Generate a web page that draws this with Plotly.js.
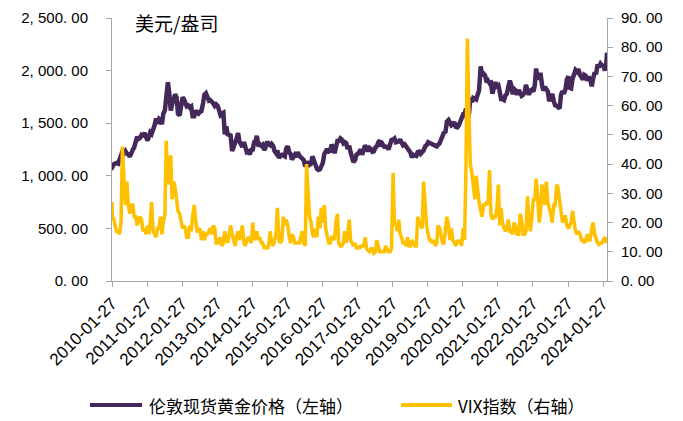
<!DOCTYPE html>
<html>
<head>
<meta charset="utf-8">
<script src="https://cdn.plot.ly/plotly-3.0.1.min.js"></script>
<style>html,body{margin:0;padding:0;background:#fff;}#chart{width:683px;height:421px;}</style>
</head>
<body>
<div id="chart"></div>
<script>
// ---- Data (semi-monthly readings: 1st and 15th of each month) ----
// 2010 starts at 2010-01-27, then Feb-1 onward; 2024 ends with Mar-1 then 2024-03-08
var goldY2010 = [1090,1085,1110,1118,1122,1115,1155,1180,1230,1215,1235,1210,1205,1182,1220,1248,1270,1315,1370,1352,1360,1390,1385];
var goldY2011 = [1405,1365,1335,1372,1412,1398,1430,1480,1545,1495,1540,1528,1490,1590,1625,1785,1890,1790,1620,1680,1725,1775,1745,1590];
var goldY2012 = [1575,1650,1745,1728,1700,1660,1668,1650,1660,1565,1565,1622,1598,1590,1610,1615,1690,1770,1785,1750,1715,1720,1710,1690];
var goldY2013 = [1665,1680,1665,1610,1580,1592,1600,1395,1470,1395,1395,1385,1235,1290,1315,1350,1405,1325,1305,1275,1320,1285,1225,1230];
var goldY2014 = [1205,1245,1250,1320,1330,1380,1280,1300,1285,1295,1245,1275,1325,1300,1290,1305,1285,1235,1215,1240,1170,1190,1200,1195];
var goldY2015 = [1185,1260,1280,1225,1210,1155,1185,1200,1180,1225,1190,1180,1170,1150,1090,1115,1135,1105,1115,1185,1140,1085,1065,1055];
var goldY2016 = [1062,1090,1125,1205,1235,1255,1230,1235,1295,1275,1215,1290,1330,1330,1355,1345,1310,1320,1310,1255,1285,1225,1170,1130];
var goldY2017 = [1150,1200,1210,1232,1250,1200,1245,1288,1265,1232,1265,1255,1228,1232,1270,1280,1320,1335,1280,1300,1275,1280,1275,1250];
var goldY2018 = [1305,1340,1345,1355,1318,1320,1325,1345,1310,1290,1300,1280,1250,1240,1220,1175,1200,1195,1190,1225,1230,1210,1225,1240];
var goldY2019 = [1280,1290,1320,1315,1310,1300,1295,1285,1280,1295,1310,1345,1400,1410,1420,1515,1530,1495,1480,1490,1510,1465,1460,1475];
var goldY2020 = [1520,1550,1585,1585,1640,1515,1590,1740,1700,1740,1735,1725,1775,1810,2040,1950,1970,1955,1890,1905,1880,1885,1780,1855];
var goldY2021 = [1890,1850,1860,1800,1730,1730,1720,1765,1780,1845,1905,1860,1775,1825,1810,1770,1815,1790,1760,1770,1790,1865,1785,1770];
var goldY2022 = [1810,1820,1800,1860,2020,1930,1930,1980,1865,1810,1845,1830,1800,1710,1760,1780,1710,1670,1665,1650,1640,1770,1805,1780];
var goldY2023 = [1825,1915,1945,1835,1830,1920,1985,2005,1990,2015,1960,1945,1915,1960,1950,1905,1940,1920,1850,1920,1985,1965,2060,2030];
var goldY2024 = [2065,2050,2045,2000,2070,2170];

var vixY2010 = [27,22,21,19,17,17,16,20,46,35,26,34,26,23,26,26,22,22,19,21,22,21,17];
var vixY2011 = [18,16,19,16,20,27,17,16,15,18,18,22,16,20,23,48,33,37,43,28,34,32,28,24];
var vixY2012 = [23,20,18,19,18,15,15,19,17,22,26,21,17,17,18,14,17,14,16,16,17,18,16,19];
var vixY2013 = [18,13,13,14,15,12,13,17,14,13,16,19,16,14,12,15,17,14,17,19,13,12,14,15];
var vixY2014 = [14,13,20,14,15,17,14,15,13,13,11,12,11,12,17,13,12,14,16,25,14,13,14,22];
var vixY2015 = [19,21,19,15,13,16,15,13,13,13,13,15,17,13,12,40,30,22,20,16,15,18,15,22];
var vixY2016 = [18,25,20,26,18,16,13,13,15,15,14,20,23,13,12,12,13,17,13,16,21,14,13,12];
var vixY2017 = [13,11,12,11,12,12,12,15,11,10.5,10,11,11,9.5,10,14,11,10,10,10,10,12,11,10];
var vixY2018 = [10,11,37,19,20,17,21,16,15,13,13,12,15,12,12,14,13,12,12,22,20,19,18,34];
var vixY2019 = [25,19,16,14,14,13,14,12,13,19,18,15,13,13,18,22,19,14,18,14,13,12,14,13];
var vixY2020 = [14,12,18,14,40,83,57,40,37,32,28,36,30,27,24,22,26,26,27,26,38,23,21,22];
var vixY2021 = [22,24,33,19,25,20,18,17,18,21,17,17,16,20,18,16,16,23,21,16,16,17,29,21];
var vixY2022 = [17,21,28,28,35,30,20,23,33,29,26,34,27,25,23,20,26,26,33,32,26,24,20,22];
var vixY2023 = [22,19,18,19,20,24,19,17,16,17,16,14,14,13,14,16,14,14,18,20,16,14,13,12.5];
var vixY2024 = [13,13,14,15,13,14.5];

var yearKeys = [2010,2011,2012,2013,2014,2015,2016,2017,2018,2019,2020,2021,2022,2023,2024];
var goldByYear = [goldY2010,goldY2011,goldY2012,goldY2013,goldY2014,goldY2015,goldY2016,goldY2017,goldY2018,goldY2019,goldY2020,goldY2021,goldY2022,goldY2023,goldY2024];
var vixByYear = [vixY2010,vixY2011,vixY2012,vixY2013,vixY2014,vixY2015,vixY2016,vixY2017,vixY2018,vixY2019,vixY2020,vixY2021,vixY2022,vixY2023,vixY2024];

var firstDate = '2010-01-27';
var lastDate = '2024-03-08';
var xTickLabels = ['2010-01-27','2011-01-27','2012-01-27','2013-01-27','2014-01-27','2015-01-27','2016-01-27','2017-01-27','2018-01-27','2019-01-27','2020-01-27','2021-01-27','2022-01-27','2023-01-27','2024-01-27'];
var leftTickVals = [0,500,1000,1500,2000,2500];
var leftTickText = ['0. 00','500. 00','1, 000. 00','1, 500. 00','2, 000. 00','2, 500. 00'];
var rightTickVals = [0,10,20,30,40,50,60,70,80,90];
var rightTickText = ['0. 00','10. 00','20. 00','30. 00','40. 00','50. 00','60. 00','70. 00','80. 00','90. 00'];

var goldName = '伦敦现货黄金价格（左轴）';
var vixName = 'VIX指数（右轴）';
var unitText = '美元/盎司';

// ---- build date positions for the semi-monthly readings ----
function pad(n){return (n<10?'0':'')+n;}
function gridDate(year,k){var m=Math.floor(k/2)+1;var d=(k%2)?15:1;return year+'-'+pad(m)+'-'+pad(d);}
function datesFor(year,len){
  var out=[];
  if(year===2010){out.push(firstDate);for(var i=1;i<len;i++)out.push(gridDate(year,i+1));}
  else if(year===2024){for(var j=0;j<len-1;j++)out.push(gridDate(year,j));out.push(lastDate);}
  else{for(var k=0;k<len;k++)out.push(gridDate(year,k));}
  return out;
}
function flatten(byYear){
  var x=[],y=[];
  for(var i=0;i<yearKeys.length;i++){
    var ds=datesFor(yearKeys[i],byYear[i].length);
    x=x.concat(ds);y=y.concat(byYear[i]);
  }
  return {x:x,y:y};
}
var g=flatten(goldByYear), v=flatten(vixByYear);

var purple='#432859', yellow='#FFC000', axisGray='#A6A6A6';
var tickFont={family:'Liberation Sans, Arial, sans-serif',size:15,color:'#000'};
var xTickFont={family:'Liberation Sans, Arial, sans-serif',size:17,color:'#000'};
var cjk='Noto Sans CJK SC, sans-serif';

var L=112, R=607, T=18, B=281;
function px(xp){return (xp-L)/(R-L);}
function py(yp){return (B-yp)/(B-T);}

var traces=[
  {x:v.x,y:v.y,type:'scatter',mode:'lines',name:vixName,line:{color:yellow,width:3.5},yaxis:'y2'},
  {x:g.x,y:g.y,type:'scatter',mode:'lines',name:goldName,line:{color:purple,width:4.5},yaxis:'y'}
];

var layout={
  width:683,height:421,
  margin:{l:L,r:683-R,t:T,b:421-B,pad:0},
  paper_bgcolor:'#fff',plot_bgcolor:'#fff',
  showlegend:false,
  xaxis:{type:'date',range:[firstDate,lastDate],tickmode:'array',tickvals:xTickLabels,ticktext:xTickLabels,
    tickangle:-45,ticks:'outside',ticklen:5,tickcolor:axisGray,showline:true,linecolor:axisGray,linewidth:1,
    showgrid:false,zeroline:false,tickfont:xTickFont},
  yaxis:{range:[0,2500],tickmode:'array',tickvals:leftTickVals,ticktext:leftTickText,ticks:'outside',ticklen:5,tickcolor:axisGray,
    showline:true,linecolor:axisGray,linewidth:1,showgrid:false,zeroline:false,tickfont:tickFont,ticklabelstandoff:15},
  yaxis2:{range:[0,90],tickmode:'array',tickvals:rightTickVals,ticktext:rightTickText,overlaying:'y',side:'right',ticks:'outside',ticklen:5,
    tickcolor:axisGray,showline:true,linecolor:axisGray,linewidth:1,showgrid:false,zeroline:false,tickfont:tickFont,ticklabelstandoff:5},
  annotations:[
    {text:unitText,xref:'paper',yref:'paper',x:px(133),y:py(22),xanchor:'left',yanchor:'middle',showarrow:false,
     font:{family:cjk,size:19,color:'#000'}},
    {text:goldName,xref:'paper',yref:'paper',x:px(147),y:py(405),xanchor:'left',yanchor:'middle',showarrow:false,
     font:{family:cjk,size:17,color:'#000'}},
    {text:vixName,xref:'paper',yref:'paper',x:px(456),y:py(405),xanchor:'left',yanchor:'middle',showarrow:false,
     font:{family:cjk,size:17,color:'#000'}}
  ],
  shapes:[
    {type:'line',xref:'paper',yref:'paper',x0:px(90),x1:px(142),y0:py(405),y1:py(405),line:{color:purple,width:4}},
    {type:'line',xref:'paper',yref:'paper',x0:px(401),x1:px(452),y0:py(405),y1:py(405),line:{color:yellow,width:4}}
  ]
};
Plotly.newPlot('chart',traces,layout,{displayModeBar:false,staticPlot:true});
</script>
</body>
</html>
